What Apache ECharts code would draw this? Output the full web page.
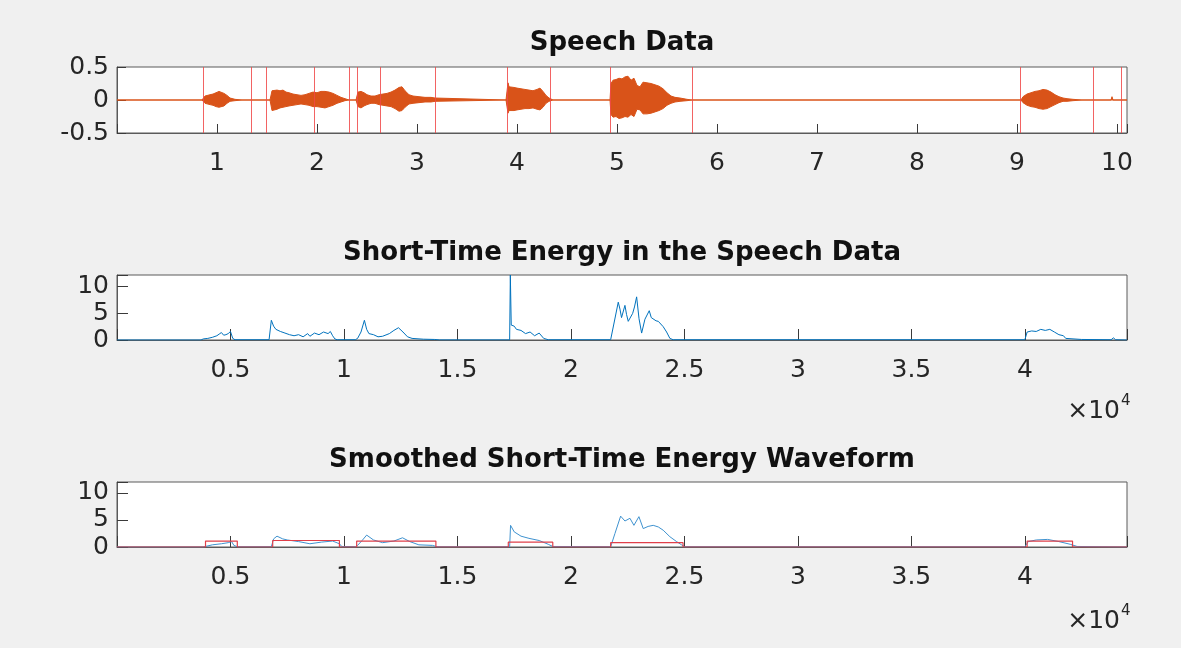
<!DOCTYPE html>
<html><head><meta charset="utf-8">
<script src="https://cdn.jsdelivr.net/npm/echarts@6/dist/echarts.min.js"></script>
<style>html,body{margin:0;padding:0;background:#f0f0f0}#c{width:1181px;height:648px}</style>
</head><body><div id="c"></div>
<script>
// ---- Speech waveform envelope (seconds, amplitude) ----
const speechTime = [0, 0.85, 0.86, 0.88, 0.90, 0.93, 0.96, 0.99, 1.02, 1.04, 1.07, 1.10, 1.13, 1.18, 1.25,
  1.53, 1.55, 1.57, 1.60, 1.63, 1.66, 1.69, 1.72, 1.76, 1.80, 1.84, 1.88, 1.92, 1.96, 2.00, 2.04, 2.08, 2.12, 2.16, 2.20, 2.24, 2.28, 2.32,
  2.39, 2.41, 2.44, 2.47, 2.50, 2.54, 2.58, 2.62, 2.66, 2.70, 2.74, 2.78, 2.82, 2.85, 2.88, 2.92, 2.96, 3.02, 3.08, 3.14, 3.18, 3.20,
  3.89, 3.91, 3.92, 3.94, 3.97, 4.00, 4.04, 4.08, 4.12, 4.16, 4.20, 4.23, 4.26, 4.29, 4.32, 4.36,
  4.93, 4.94, 4.96, 4.99, 5.02, 5.05, 5.08, 5.11, 5.14, 5.17, 5.20, 5.23, 5.26, 5.30, 5.34, 5.38, 5.42, 5.46, 5.50, 5.54, 5.58, 5.63, 5.70, 5.75,
  9.04, 9.06, 9.10, 9.14, 9.18, 9.22, 9.26, 9.30, 9.34, 9.38, 9.42, 9.46, 9.50, 9.56, 9.65,
  9.94, 9.95, 9.96, 10.1];
const speechUpper = [0, 0, 0.03, 0.06, 0.07, 0.08, 0.09, 0.11, 0.13, 0.12, 0.10, 0.07, 0.03, 0.01, 0,
  0, 0.14, 0.16, 0.15, 0.14, 0.15, 0.12, 0.11, 0.09, 0.08, 0.07, 0.08, 0.10, 0.12, 0.11, 0.13, 0.13, 0.12, 0.10, 0.07, 0.04, 0.02, 0,
  0, 0.12, 0.13, 0.11, 0.08, 0.06, 0.06, 0.08, 0.09, 0.10, 0.12, 0.15, 0.19, 0.20, 0.14, 0.08, 0.06, 0.05, 0.04, 0.04, 0.03, 0,
  0, 0.26, 0.20, 0.18, 0.19, 0.18, 0.17, 0.16, 0.15, 0.14, 0.16, 0.18, 0.13, 0.07, 0.03, 0,
  0, 0.25, 0.30, 0.31, 0.33, 0.32, 0.35, 0.36, 0.30, 0.33, 0.22, 0.20, 0.27, 0.26, 0.25, 0.23, 0.21, 0.17, 0.11, 0.06, 0.04, 0.03, 0.01, 0,
  0, 0.05, 0.09, 0.11, 0.13, 0.14, 0.16, 0.15, 0.12, 0.08, 0.05, 0.03, 0.02, 0.01, 0,
  0, 0.05, 0, 0];
const speechLower = [0, 0, 0.03, 0.05, 0.06, 0.07, 0.08, 0.10, 0.11, 0.11, 0.09, 0.05, 0.02, 0.01, 0,
  0, 0.16, 0.15, 0.14, 0.12, 0.11, 0.10, 0.09, 0.08, 0.07, 0.06, 0.07, 0.08, 0.10, 0.10, 0.11, 0.12, 0.10, 0.08, 0.05, 0.03, 0.01, 0,
  0, 0.10, 0.12, 0.09, 0.07, 0.05, 0.05, 0.07, 0.08, 0.09, 0.10, 0.13, 0.17, 0.16, 0.11, 0.06, 0.05, 0.04, 0.03, 0.03, 0.02, 0,
  0, 0.20, 0.16, 0.15, 0.16, 0.15, 0.14, 0.13, 0.13, 0.12, 0.14, 0.15, 0.11, 0.05, 0.02, 0,
  0, 0.22, 0.26, 0.25, 0.28, 0.27, 0.25, 0.26, 0.22, 0.25, 0.14, 0.15, 0.21, 0.21, 0.20, 0.18, 0.16, 0.13, 0.08, 0.05, 0.03, 0.02, 0.01, 0,
  0, 0.04, 0.08, 0.10, 0.11, 0.13, 0.14, 0.13, 0.10, 0.07, 0.04, 0.02, 0.02, 0.01, 0,
  0, 0.03, 0, 0];
// Segment boundary markers (seconds)
const boundaryTimes = [0.86, 1.34, 1.49, 1.97, 2.32, 2.40, 2.63, 3.18, 3.90, 4.33, 4.93, 5.75, 9.03, 9.76, 10.04];

// ---- Short-time energy (sample index, energy) ----
const energyIdx = [0, 3700, 3800, 4000, 4200, 4400, 4500, 4600, 4700, 4800, 4900, 5000, 5100, 5200,
  6700, 6800, 6900, 7000, 7200, 7400, 7600, 7800, 8000, 8200, 8400, 8500, 8700, 8900, 9100, 9300, 9400, 9500, 9600, 9700,
  10500, 10600, 10750, 10900, 11000, 11100, 11300, 11500, 11700, 12000, 12200, 12400, 12600, 12800, 13000, 13500, 14000, 14200,
  17300, 17330, 17370, 17500, 17600, 17800, 18000, 18200, 18400, 18600, 18800, 19000,
  21750, 21890, 22085, 22160, 22230, 22380, 22450, 22525, 22720, 22800, 22895, 23000, 23115, 23260, 23450, 23540, 23625, 23750, 23850, 24065, 24215, 24360, 24505,
  40000, 40100, 40300, 40500, 40700, 40900, 41100, 41300, 41500, 41700, 41800, 42500, 43800, 43900, 44000, 44500];
const energyVal = [0, 0, 0.2, 0.3, 0.5, 0.8, 1.1, 1.4, 0.9, 1.0, 1.2, 1.6, 0.3, 0.05,
  0.05, 3.7, 2.6, 2.0, 1.6, 1.3, 1.0, 0.8, 1.0, 0.6, 1.2, 0.7, 1.3, 1.0, 1.5, 1.2, 1.6, 0.8, 0.2, 0.05,
  0.05, 0.3, 1.5, 3.7, 2.0, 1.2, 1.0, 0.6, 0.7, 1.2, 1.8, 2.3, 1.5, 0.6, 0.3, 0.15, 0.1, 0.02,
  0.02, 12.2, 2.8, 2.6, 2.0, 1.8, 1.2, 1.5, 0.8, 1.3, 0.3, 0.05,
  0.05, 3.0, 7.1, 5.8, 4.2, 6.5, 4.8, 3.5, 5.0, 6.2, 8.1, 4.0, 1.3, 3.9, 5.5, 4.2, 4.5, 3.6, 3.5, 2.5, 1.5, 0.3, 0.05,
  0.05, 1.5, 1.7, 1.6, 2.0, 1.8, 2.0, 1.5, 1.0, 0.8, 0.3, 0.1, 0.05, 0.4, 0.05, 0];

// ---- Smoothed short-time energy ----
const smoothIdx = [0, 3800, 3850, 4200, 4600, 4900, 5050, 5150, 5300,
  6800, 6900, 7050, 7300, 7500, 8000, 8500, 9000, 9500, 9800, 9900,
  10500, 10600, 10800, 11000, 11300, 11700, 12200, 12580, 12900, 13300, 13900, 14100,
  17300, 17340, 17500, 17800, 18150, 18600, 19000, 19200,
  21750, 21940, 22190, 22380, 22600, 22775, 22995, 23185, 23400, 23625, 23850, 24065, 24360, 24655, 24875, 25020,
  40000, 40150, 40500, 41000, 41500, 42000, 42300, 44500];
const smoothVal = [0, 0, 0.3, 0.4, 0.6, 0.8, 1.0, 0.3, 0.05,
  0.05, 1.5, 2.0, 1.5, 1.3, 1.0, 0.6, 0.9, 1.1, 0.6, 0.1,
  0.05, 0.3, 1.2, 2.2, 1.3, 0.8, 1.1, 1.7, 1.0, 0.4, 0.3, 0.05,
  0.05, 4.0, 2.8, 2.0, 1.6, 1.2, 0.5, 0.1,
  0.05, 2.5, 5.7, 4.8, 5.3, 4.0, 5.6, 3.4, 3.8, 4.0, 3.7, 3.1, 1.9, 1.0, 0.4, 0.05,
  0.05, 1.0, 1.3, 1.4, 1.0, 0.5, 0.1, 0];

// ---- Detection mask (red step line) ----
const maskIdx = [0, 3900, 3900, 5300, 5300, 6860, 6860, 9800, 9800, 10560, 10560, 14050, 14050,
  17240, 17240, 19200, 19200, 21750, 21750, 24940, 24940, 40100, 40100, 42100, 42100, 44500];
const maskVal = [0, 0, 1.1, 1.1, 0, 0, 1.2, 1.2, 0, 0, 1.1, 1.1, 0,
  0, 0.9, 0.9, 0, 0, 0.8, 0.8, 0, 0, 1.1, 1.1, 0, 0];

// ---- Titles / axis ranges ----
const titles = ['Speech Data', 'Short-Time Energy in the Speech Data', 'Smoothed Short-Time Energy Waveform'];
const speechXMax = 10.1, sampleXMax = 44500;

const zip = (a, b, s = 1) => a.map((v, i) => [v, s * b[i]]);
const FONT = 'DejaVu Sans';
const TXT = '#262626';
const FRAME = '#5a5a5a';

function xAx(grid, max, interval, fmt, tickLen) {
  return {
    type: 'value', gridIndex: grid, min: 0, max, interval, position: 'bottom',
    axisLine: { show: true, onZero: false, lineStyle: { color: FRAME, width: 1 } },
    axisTick: { show: true, inside: true, length: tickLen, lineStyle: { color: '#3a3a3a', width: 1 } },
    splitLine: { show: false },
    axisLabel: { show: true, margin: 18, color: TXT, fontSize: 25, fontFamily: FONT, formatter: fmt }
  };
}
function yAx(grid, min, max, interval, tickLen) {
  return {
    type: 'value', gridIndex: grid, min, max, interval, position: 'left',
    axisLine: { show: true, onZero: false, lineStyle: { color: FRAME, width: 1 } },
    axisTick: { show: true, inside: true, length: tickLen, lineStyle: { color: '#3a3a3a', width: 1 } },
    splitLine: { show: false },
    axisLabel: { show: true, margin: 8, color: TXT, fontSize: 25, fontFamily: FONT,
      formatter: v => (v > 10.5 ? '' : String(v)) }
  };
}
const sFmt = v => (v === 0 || v > 10.05 ? '' : String(v));
const eFmt = v => (v === 0 || v > 40500 ? '' : String(+(v / 10000).toFixed(2)));

const grids = [
  { left: 117, right: 54, top: 67, height: 66 },
  { left: 117, right: 54, top: 275, height: 65 },
  { left: 117, right: 54, top: 482, height: 65 }
].map(g => Object.assign(g, { show: true, backgroundColor: '#ffffff', borderColor: FRAME, borderWidth: 1 }));

const option = {
  animation: false,
  backgroundColor: '#f0f0f0',
  grid: grids,
  xAxis: [
    xAx(0, speechXMax, 1, sFmt, 9),
    xAx(1, sampleXMax, 5000, eFmt, 11),
    xAx(2, sampleXMax, 5000, eFmt, 11)
  ],
  yAxis: [
    yAx(0, -0.5, 0.5, 0.5, 9),
    yAx(1, 0, 12.2, 5, 11),
    yAx(2, 0, 12, 5, 11)
  ],
  graphic: [
    { type: 'text', x: 622, y: 43, style: { text: titles[0], align: 'center', verticalAlign: 'middle', font: 'bold 26px "DejaVu Sans"', fill: '#111' } },
    { type: 'text', x: 622, y: 253, style: { text: titles[1], align: 'center', verticalAlign: 'middle', font: 'bold 26px "DejaVu Sans"', fill: '#111' } },
    { type: 'text', x: 622, y: 460, style: { text: titles[2], align: 'center', verticalAlign: 'middle', font: 'bold 26px "DejaVu Sans"', fill: '#111' } },
    { type: 'text', x: 1120, y: 411, style: { text: '\u00d710', align: 'right', verticalAlign: 'middle', font: '25px "DejaVu Sans"', fill: TXT } },
    { type: 'text', x: 1121, y: 401, style: { text: '4', align: 'left', verticalAlign: 'middle', font: '15px "DejaVu Sans"', fill: TXT } },
    { type: 'text', x: 1120, y: 621, style: { text: '\u00d710', align: 'right', verticalAlign: 'middle', font: '25px "DejaVu Sans"', fill: TXT } },
    { type: 'text', x: 1121, y: 611, style: { text: '4', align: 'left', verticalAlign: 'middle', font: '15px "DejaVu Sans"', fill: TXT } }
  ],
  series: [
    {
      type: 'line', xAxisIndex: 0, yAxisIndex: 0, data: zip(speechTime, speechUpper), showSymbol: false,
      lineStyle: { color: '#D95319', width: 1 }, areaStyle: { color: '#D95319', opacity: 1 },
      markLine: {
        silent: true, symbol: 'none', label: { show: false }, animation: false,
        lineStyle: { color: '#f04848', type: 'solid', width: 1, opacity: 0.85 },
        data: boundaryTimes.map(t => ({ xAxis: t }))
      }
    },
    {
      type: 'line', xAxisIndex: 0, yAxisIndex: 0, data: zip(speechTime, speechLower, -1), showSymbol: false,
      lineStyle: { color: '#D95319', width: 1 }, areaStyle: { color: '#D95319', opacity: 1 }
    },
    {
      type: 'line', xAxisIndex: 1, yAxisIndex: 1, data: zip(energyIdx, energyVal), showSymbol: false,
      lineStyle: { color: '#0072BD', width: 1 }
    },
    {
      type: 'line', xAxisIndex: 2, yAxisIndex: 2, data: zip(smoothIdx, smoothVal), showSymbol: false,
      lineStyle: { color: '#3f92cf', width: 1 }
    },
    {
      type: 'line', xAxisIndex: 2, yAxisIndex: 2, data: zip(maskIdx, maskVal), showSymbol: false,
      lineStyle: { color: '#e0404a', width: 1.2 }
    }
  ]
};
const chart = echarts.init(document.getElementById('c'), null, { renderer: 'canvas' });
chart.setOption(option);
</script></body></html>
